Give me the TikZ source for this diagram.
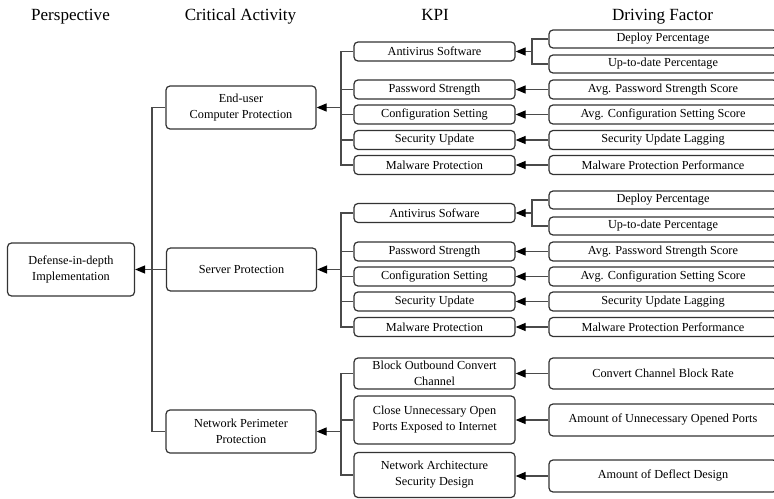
\documentclass[tikz,border=0pt]{standalone}
\usepackage{fontspec}
\setmainfont{Liberation Serif}
\usetikzlibrary{arrows.meta}
\definecolor{boxline}{HTML}{333333}
\definecolor{wire}{HTML}{4A4A4A}
\begin{document}
\begin{tikzpicture}[x=0.75pt,y=-0.75pt,
  box/.style={draw=boxline,line width=0.9pt,rounded corners=3pt,align=center,
    inner sep=0pt,font=\fontsize{9.2}{12}\selectfont},
  kpibox/.style={box,minimum width=120.75pt},
  dfbox/.style={box,minimum width=171pt},
  actbox/.style={box,minimum width=112.5pt,minimum height=32.25pt},
  head/.style={anchor=base,font=\fontsize{12.8}{15}\selectfont},
  wireline/.style={draw=wire,line width=0.9pt},
  arr/.style={wireline,-{Triangle[length=7.5pt,width=6pt,color=black]}}]
\useasboundingbox (0,0) rectangle (774,499);

% column headings
\node[head] (h1) at (70.5,21) {Perspective};
\node[head] (h2) at (240.5,21) {Critical Activity};
\node[head] (h3) at (435,21) {KPI};
\node[head] (h4) at (662.5,21) {Driving Factor};

% perspective and critical activities
\node[box,minimum width=95.25pt,minimum height=39.75pt] (def) at (71,269.5) {Defense-in-depth\\Implementation};
\node[actbox] (eu) at (241,107.5) {End-user\\Computer Protection};
\node[actbox] (srv) at (241.5,269.5) {Server Protection};
\node[actbox] (net) at (241,431.5) {Network Perimeter\\Protection};

% end-user KPIs
\node[kpibox,minimum height=14.25pt] (k11) at (434.5,51.5) {Antivirus Software};
\node[kpibox,minimum height=14.25pt] (k12) at (434.5,89.5) {Password Strength};
\node[kpibox,minimum height=14.25pt] (k13) at (434.5,114.5) {Configuration Setting};
\node[kpibox,minimum height=14.25pt] (k14) at (434.5,140) {Security Update};
\node[kpibox,minimum height=14.25pt] (k15) at (434.5,165) {Malware Protection};

% end-user driving factors
\node[dfbox,minimum height=13.5pt] (d11a) at (663,39) {Deploy Percentage};
\node[dfbox,minimum height=13.5pt] (d11b) at (663,64) {Up-to-date Percentage};
\node[dfbox,minimum height=14.25pt] (d12) at (663,89.5) {Avg. Password Strength Score};
\node[dfbox,minimum height=14.25pt] (d13) at (663,114.5) {Avg. Configuration Setting Score};
\node[dfbox,minimum height=14.25pt] (d14) at (663,140) {Security Update Lagging};
\node[dfbox,minimum height=14.25pt] (d15) at (663,165) {Malware Protection Performance};

% server KPIs
\node[kpibox,minimum height=14.25pt] (k21) at (434.5,213) {Antivirus Sofware};
\node[kpibox,minimum height=14.25pt] (k22) at (434.5,251.5) {Password Strength};
\node[kpibox,minimum height=14.25pt] (k23) at (434.5,276.5) {Configuration Setting};
\node[kpibox,minimum height=14.25pt] (k24) at (434.5,301.5) {Security Update};
\node[kpibox,minimum height=14.25pt] (k25) at (434.5,327) {Malware Protection};

% server driving factors
\node[dfbox,minimum height=13.5pt] (d21a) at (663,200) {Deploy Percentage};
\node[dfbox,minimum height=13.5pt] (d21b) at (663,226) {Up-to-date Percentage};
\node[dfbox,minimum height=14.25pt] (d22) at (663,251.5) {Avg. Password Strength Score};
\node[dfbox,minimum height=14.25pt] (d23) at (663,276.5) {Avg. Configuration Setting Score};
\node[dfbox,minimum height=14.25pt] (d24) at (663,301.5) {Security Update Lagging};
\node[dfbox,minimum height=14.25pt] (d25) at (663,327) {Malware Protection Performance};

% network perimeter KPIs
\node[kpibox,minimum height=23.25pt] (k31) at (434.5,373.5) {Block Outbound Convert\\Channel};
\node[kpibox,minimum height=36pt] (k32) at (434.5,420) {Close Unnecessary Open\\Ports Exposed to Internet};
\node[kpibox,minimum height=33.75pt] (k33) at (434.5,475) {Network Architecture\\Security Design};

% network perimeter driving factors
\node[dfbox,minimum height=23.25pt] (d31) at (663,373.5) {Convert Channel Block Rate};
\node[dfbox,minimum height=24pt] (d32) at (663,420) {Amount of Unnecessary Opened Ports};
\node[dfbox,minimum height=24pt] (d33) at (663,476) {Amount of Deflect Design};

% bus joints
\coordinate (b0) at (152,269.5);
\coordinate (b1) at (341,107.5);
\coordinate (b2) at (341,269.5);
\coordinate (b3) at (341,431.5);
\coordinate (a1) at (532,51.5);
\coordinate (a2) at (532,213);

% activities into the perspective
\draw[wireline] (eu.west) -| (b0) |- (net.west);
\draw[arr] (srv.west) -- (def.east);

% KPIs into the activities
\draw[wireline] (k11.west) -| (b1) |- (k15.west);
\foreach \k in {k12,k13,k14} \draw[wireline] (\k.west) -- (\k.west -| b1);
\draw[arr] (b1) -- (eu.east);
\draw[wireline] (k21.west) -| (b2) |- (k25.west);
\foreach \k in {k22,k23,k24} \draw[wireline] (\k.west) -- (\k.west -| b2);
\draw[arr] (b2) -- (srv.east);
\draw[wireline] (k31.west) -| (b3) |- (k33.west);
\draw[wireline] (k32.west) -- (k32.west -| b3);
\draw[arr] (b3) -- (net.east);

% driving factors into the KPIs
\draw[wireline] (d11a.west) -| (a1) |- (d11b.west);
\draw[arr] (a1) -- (k11.east);
\draw[wireline] (d21a.west) -| (a2) |- (d21b.west);
\draw[arr] (a2) -- (k21.east);
\foreach \d/\k in {d12/k12,d13/k13,d14/k14,d15/k15,d22/k22,d23/k23,d24/k24,d25/k25,d31/k31,d32/k32,d33/k33}
  \draw[arr] (\d.west) -- (\k.east |- \d.west);
\end{tikzpicture}
\end{document}
